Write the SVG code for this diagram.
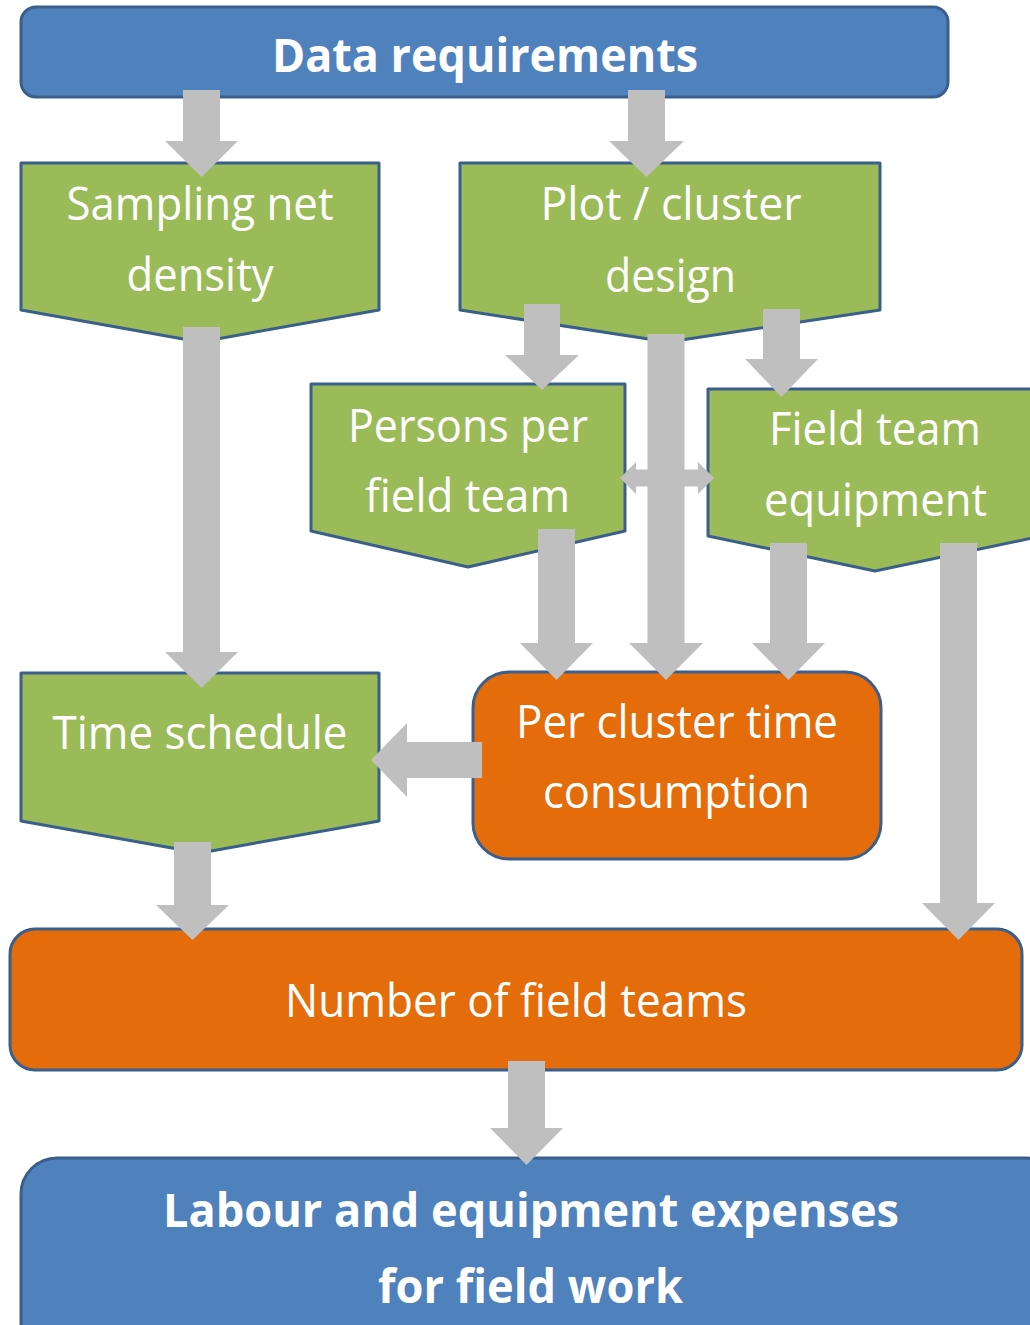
<svg xmlns="http://www.w3.org/2000/svg" width="1030" height="1325" viewBox="0 0 1030 1325">
<style>
.blue{fill:#4F81BD;stroke:#3A5F8B;stroke-width:3}
.green{fill:#9BBB59;stroke:#3A5F8B;stroke-width:3;stroke-linejoin:round}
.orange{fill:#E46C0A;stroke:#3A5F8B;stroke-width:3}
.t{font-family:"Open Sans","Noto Sans",sans-serif;font-size:45px;fill:#FFFFFF;text-anchor:middle}
.b{font-weight:bold;font-size:47px}
.arr{fill:#BFBFBF}
</style>
<rect width="1030" height="1325" fill="#FFFFFF"/>
<g id="data-requirements">
<rect class="blue" x="21" y="7" width="927" height="90" rx="15"/>
<text class="t b" x="485" y="72" textLength="426" lengthAdjust="spacingAndGlyphs">Data requirements</text>
</g>
<g id="sampling-net-density">
<path class="green" d="M21,163 L379,163 L379,310 L200,342 L21,310 Z"/>
<text class="t" x="200" y="220" textLength="267" lengthAdjust="spacingAndGlyphs">Sampling net</text>
<text class="t" x="200" y="291" textLength="147" lengthAdjust="spacingAndGlyphs">density</text>
</g>
<g id="plot-cluster-design">
<path class="green" d="M460,163 L880,163 L880,310 L668,342 L460,310 Z"/>
<text class="t" x="671" y="220" textLength="261" lengthAdjust="spacingAndGlyphs">Plot / cluster</text>
<text class="t" x="670.5" y="292" textLength="131" lengthAdjust="spacingAndGlyphs">design</text>
</g>
<g id="persons-per-field-team">
<path class="green" d="M311,384 L625,384 L625,531 L468,567 L311,531 Z"/>
<text class="t" x="468" y="442" textLength="240" lengthAdjust="spacingAndGlyphs">Persons per</text>
<text class="t" x="467.5" y="512" textLength="205" lengthAdjust="spacingAndGlyphs">field team</text>
</g>
<g id="field-team-equipment">
<path class="green" d="M708,389 L1042,389 L1042,536 L875,571 L708,536 Z"/>
<text class="t" x="875" y="445" textLength="212" lengthAdjust="spacingAndGlyphs">Field team</text>
<text class="t" x="875.5" y="516" textLength="223" lengthAdjust="spacingAndGlyphs">equipment</text>
</g>
<g id="time-schedule">
<path class="green" d="M21,673 L379,673 L379,821 L200,853 L21,821 Z"/>
<text class="t" x="200" y="749" textLength="295" lengthAdjust="spacingAndGlyphs">Time schedule</text>
</g>
<g id="per-cluster-time-consumption">
<rect class="orange" x="473" y="672" width="408" height="187" rx="36"/>
<text class="t" x="677" y="738" textLength="322" lengthAdjust="spacingAndGlyphs">Per cluster time</text>
<text class="t" x="676.5" y="808" textLength="267" lengthAdjust="spacingAndGlyphs">consumption</text>
</g>
<g id="number-of-field-teams">
<rect class="orange" x="10" y="929" width="1012" height="141" rx="25"/>
<text class="t" x="516" y="1017" textLength="462" lengthAdjust="spacingAndGlyphs">Number of field teams</text>
</g>
<g id="labour-equipment-expenses">
<rect class="blue" x="21" y="1158" width="1040" height="200" rx="36"/>
<text class="t b" x="531" y="1227" textLength="736" lengthAdjust="spacingAndGlyphs">Labour and equipment expenses</text>
<text class="t b" x="530.5" y="1303" textLength="305" lengthAdjust="spacingAndGlyphs">for field work</text>
</g>
<g id="connectors" class="arr">
<polygon points="183,90 220,90 220,141 238,141 201.5,177 165,141 183,141"/>
<polygon points="628,90 665,90 665,141 684,141 646.5,177 609,141 628,141"/>
<polygon points="183,327 220,327 220,652 238,652 201.5,688 165,652 183,652"/>
<polygon points="524,304 560,304 560,355 579,355 542,390 505,355 524,355"/>
<polygon points="763,309 800,309 800,359 818,359 781.5,397 745,359 763,359"/>
<polygon points="620,478 636,462 636,469.5 698,469.5 698,462 714,478 698,494 698,486.5 636,486.5 636,494"/>
<polygon points="647.5,334 684.5,334 684.5,643 703,643 666,680 629,643 647.5,643"/>
<polygon points="538,529 575,529 575,643 593,643 556.5,680 520,643 538,643"/>
<polygon points="770,543 807,543 807,643 825,643 788.5,680 752,643 770,643"/>
<polygon points="940,543 977,543 977,903 995,903 958.5,940 922,903 940,903"/>
<polygon points="482,742 482,778 407,778 407,797 371,760 407,723 407,742"/>
<polygon points="174,842 211,842 211,905 229,905 192.5,940 156,905 174,905"/>
<polygon points="508,1061 545,1061 545,1128 563,1128 526.5,1165 490,1128 508,1128"/>
</g>
</svg>
